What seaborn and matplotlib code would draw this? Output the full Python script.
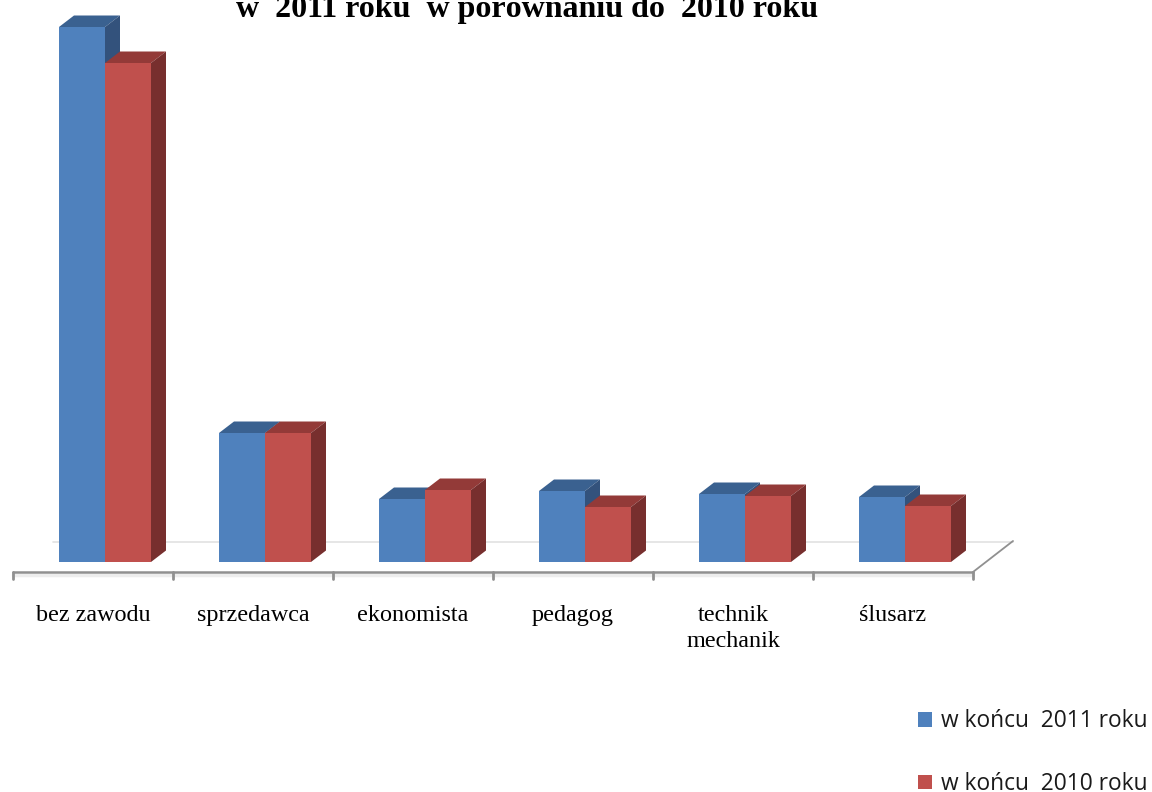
import pandas as pd
from matplotlib import pyplot as plt
from matplotlib import transforms
from matplotlib.patches import Polygon
import matplotlib.colors as mc
import seaborn as sns

# values, no y axis in the original so units are arbitrary
zawody = ['bez zawodu', 'sprzedawca', 'ekonomista', 'pedagog', 'technik\nmechanik', 'ślusarz']
koniec_2011 = [535, 129, 63, 71, 68, 65]
koniec_2010 = [499, 129, 72, 55, 66, 56]
seria_2011 = 'w końcu  2011 roku'
seria_2010 = 'w końcu  2010 roku'
tytul = 'w  2011 roku  w porównaniu do  2010 roku'

df = pd.DataFrame({
    'zawod': zawody * 2,
    'liczba': koniec_2011 + koniec_2010,
    'seria': [seria_2011] * 6 + [seria_2010] * 6,
})

sns.set_style('white')
fig = plt.figure(figsize=(11.52, 7.92), dpi=100)
ax = fig.add_axes([25 / 1152, 230 / 792, 960 / 1152, 562 / 792])

kolory = {seria_2011: '#4F81BD', seria_2010: '#C0504D'}
sns.barplot(data=df, x='zawod', y='liczba', hue='seria', palette=kolory, saturation=1,
            width=0.575, gap=0, ax=ax, linewidth=0)
ax.set_xlim(-0.5, 5.5)
ax.set_ylim(0, 562)
ax.set_xlabel('')
ax.set_ylabel('')
ax.set_yticks([])
sns.despine(ax=ax, left=True, bottom=True)

# fake 3d: top and side faces on every bar
dx = 15 / 160
dy = 11.5
ciemne = {'#4F81BD': ('#3A6190', '#33527C'), '#C0504D': ('#933A38', '#772F2E')}
nr = 3
for bar in ax.patches:
    x0, w, h = bar.get_x(), bar.get_width(), bar.get_height()
    if h == 0:
        continue
    gora, bok = ciemne[mc.to_hex(bar.get_facecolor()).upper()]
    ax.add_patch(Polygon([(x0, h), (x0 + dx, h + dy), (x0 + w + dx, h + dy), (x0 + w, h)],
                         color=gora, lw=0, zorder=nr, clip_on=False))
    ax.add_patch(Polygon([(x0 + w, 0), (x0 + w + dx, dy), (x0 + w + dx, h + dy), (x0 + w, h)],
                         color=bok, lw=0, zorder=nr, clip_on=False))
    bar.set_zorder(nr + 1)
    nr += 2

# floor of the chart, moved off the bars like in the excel 3d view
podloga = transforms.offset_copy(ax.transData, fig, x=-12, y=-10, units='dots')
tylna = transforms.offset_copy(ax.transData, fig, x=28, y=20, units='dots')
ax.plot([-0.5, 5.5], [0, 0], color='#E2E2E2', lw=1.2, transform=tylna, zorder=1, clip_on=False)
ax.plot([-0.5, 5.5], [0, 0], color='#909090', lw=1.8, transform=podloga, zorder=2, clip_on=False)
ax.plot([-0.5, 5.5], [-3, -3], color='#EDEDED', lw=2.5, transform=podloga, zorder=1, clip_on=False)
ax.plot([5.5, 5.5 + 40 / 160], [0, 31], color='#909090', lw=1.3, transform=podloga, zorder=2, clip_on=False)
for i in range(7):
    ax.plot([i - 0.5, i - 0.5], [0, -7], color='#909090', lw=2, transform=podloga, zorder=2, clip_on=False)

ax.tick_params(axis='x', length=0, pad=31)
ax.set_xticks(range(6), zawody, family='Liberation Serif', fontsize=17.4, color='black')
przesun = transforms.ScaledTranslation(-12 / 100, 0, fig.dpi_scale_trans)
for lab in ax.get_xticklabels():
    lab.set_transform(lab.get_transform() + przesun)
    lab.set_linespacing(1.3)

fig.text(527 / 1152, 1 - 16.5 / 792, tytul, family='Liberation Serif', weight='bold', fontsize=23,
         ha='center', va='baseline', color='black')

ax.legend(title=None, frameon=False, loc='lower left', bbox_to_anchor=(918 / 1152, -4 / 792),
          bbox_transform=fig.transFigure, prop={'family': 'Open Sans', 'size': 16.4},
          handlelength=0.62, handleheight=0.62, handletextpad=0.38, labelspacing=1.7,
          borderpad=0, borderaxespad=0, labelcolor='#1A1A1A')

plt.savefig('out.png', dpi=100)
